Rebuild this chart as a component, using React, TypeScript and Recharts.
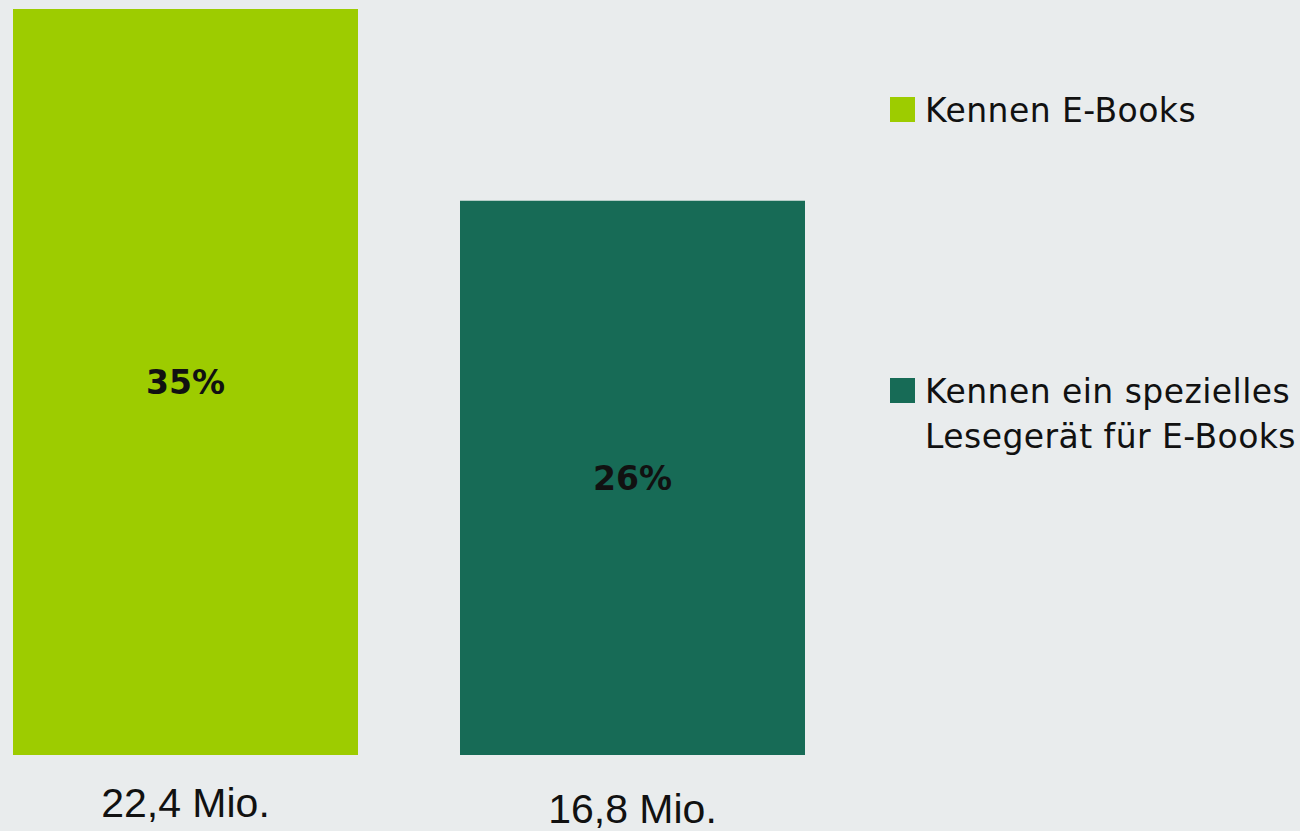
import { BarChart, Bar, XAxis, YAxis, Legend, LabelList } from 'recharts';

const BG = '#e9eced';

const seriesNames = ['Kennen E-Books', 'Kennen ein spezielles\nLesegerät für E-Books'];
const seriesKeys = ['ebooks', 'reader'];
const seriesColors = ['#9dcc00', '#176b56'];
const percentValues = [35, 26];
const millionLabels = ['22,4 Mio.', '16,8 Mio.'];

const data = [
  {
    name: 'E-Books',
    ebooks: percentValues[0],
    reader: percentValues[1],
    ebooksMio: millionLabels[0],
    readerMio: millionLabels[1],
  },
];

const MioLabel = (props: any) => {
  const { x, y, width, height, value, shift } = props;
  return (
    <text
      x={x + width / 2}
      y={y + height + shift}
      textAnchor="middle"
      fill="#111"
      fontFamily="'Liberation Sans', Arial, sans-serif"
      fontSize={41}
    >
      {value}
    </text>
  );
};

const LegendBox = () => (
  <div style={{ position: 'relative', width: 410, height: 500 }}>
    {seriesNames.map((name, i) => (
      <div
        key={name}
        style={{
          position: 'absolute',
          left: 0,
          top: i * 281,
          display: 'flex',
          alignItems: 'flex-start',
        }}
      >
        <div
          style={{
            width: 25,
            height: 25,
            marginTop: 9,
            marginRight: 10,
            background: seriesColors[i],
          }}
        />
        <div
          style={{
            fontFamily: "'DejaVu Sans', Verdana, sans-serif",
            fontSize: 33,
            lineHeight: '45px',
            letterSpacing: '0.45px',
            color: '#111',
            whiteSpace: 'pre',
          }}
        >
          {name}
        </div>
      </div>
    ))}
  </div>
);

export default function App() {
  return (
    <div
      style={{
        position: 'absolute',
        left: 0,
        top: 0,
        width: 1300,
        height: 831,
        background: BG,
      }}
    >
      <BarChart
        width={1300}
        height={831}
        data={data}
        margin={{ top: 9, right: 74, bottom: 76, left: 1 }}
        barGap={102}
        barSize={345}
      >
        <XAxis dataKey="name" hide />
        <YAxis hide domain={[0, 35]} />
        <Legend
          layout="vertical"
          align="right"
          verticalAlign="top"
          content={<LegendBox />}
          wrapperStyle={{ left: 890, top: 88, width: 410, right: 'auto' }}
        />
        {seriesKeys.map((key, i) => (
          <Bar
            key={key}
            dataKey={key}
            fill={seriesColors[i]}
            isAnimationActive={false}
          >
            <LabelList
              dataKey={key}
              position="center"
              formatter={(v: any) => `${v}%`}
              fill="#111"
              fontFamily="'DejaVu Sans', Verdana, sans-serif"
              fontWeight="bold"
              fontSize={33}
            />
            <LabelList
              dataKey={`${key}Mio`}
              content={<MioLabel shift={i === 0 ? 62 : 68} />}
            />
          </Bar>
        ))}
      </BarChart>
    </div>
  );
}
